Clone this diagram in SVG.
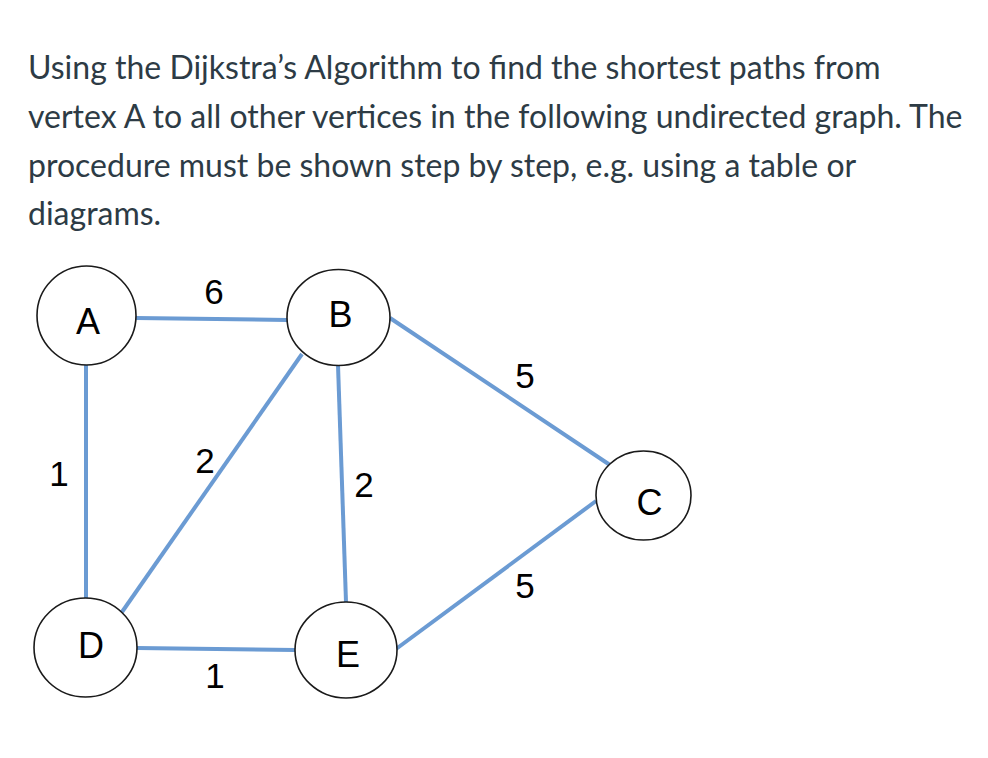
<svg xmlns="http://www.w3.org/2000/svg" width="988" height="758" viewBox="0 0 988 758">
<style>
.para{font-family:Lato,"Noto Sans",sans-serif;font-size:32px;fill:#2d3b45}
.node ellipse{fill:#fff;stroke:#1a1a1a;stroke-width:1.6}
.node text{font-family:"Liberation Sans",Arial,sans-serif;font-size:36px;fill:#000;text-anchor:middle}
.lbl{font-family:"Liberation Sans",Arial,sans-serif;font-size:35px;fill:#000;text-anchor:middle}
.edges line{stroke:#6b9bd3;stroke-width:4;stroke-linecap:butt}
</style>
<rect width="988" height="758" fill="#fff"/>
<g id="question">
<text class="para" x="28" y="79">Using the Dijkstra’s Algorithm to find the shortest paths from</text>
<text class="para" x="28" y="128">vertex A to all other vertices in the following undirected graph. The</text>
<text class="para" x="28" y="177">procedure must be shown step by step, e.g. using a table or</text>
<text class="para" x="28" y="225">diagrams.</text>
</g>
<g id="connectors" class="edges">
<line x1="136" y1="318" x2="287" y2="320"/>
<line x1="86" y1="365" x2="86" y2="598"/>
<line x1="302" y1="354" x2="122" y2="612"/>
<line x1="338" y1="365" x2="346" y2="602"/>
<line x1="390" y1="318" x2="610" y2="465"/>
<line x1="137" y1="648" x2="295" y2="650"/>
<line x1="396" y1="649" x2="596" y2="501"/>
</g>
<g id="edge-labels">
<text class="lbl" x="214" y="304">6</text>
<text class="lbl" x="59" y="486">1</text>
<text class="lbl" x="205" y="473">2</text>
<text class="lbl" x="364" y="497">2</text>
<text class="lbl" x="525" y="388">5</text>
<text class="lbl" x="525" y="598">5</text>
<text class="lbl" x="215" y="688">1</text>
</g>
<g id="node-A" class="node"><ellipse cx="86.5" cy="315.5" rx="49.5" ry="49.5"/><text x="88" y="334">A</text></g>
<g id="node-B" class="node"><ellipse cx="338.5" cy="317.5" rx="51.5" ry="48"/><text x="340.5" y="327">B</text></g>
<g id="node-C" class="node"><ellipse cx="643.5" cy="495.5" rx="47.5" ry="44.5"/><text x="649.5" y="515">C</text></g>
<g id="node-D" class="node"><ellipse cx="85.5" cy="647.5" rx="51.5" ry="49.5"/><text x="91" y="658">D</text></g>
<g id="node-E" class="node"><ellipse cx="346" cy="650" rx="51" ry="48"/><text x="348" y="667">E</text></g>
</svg>
